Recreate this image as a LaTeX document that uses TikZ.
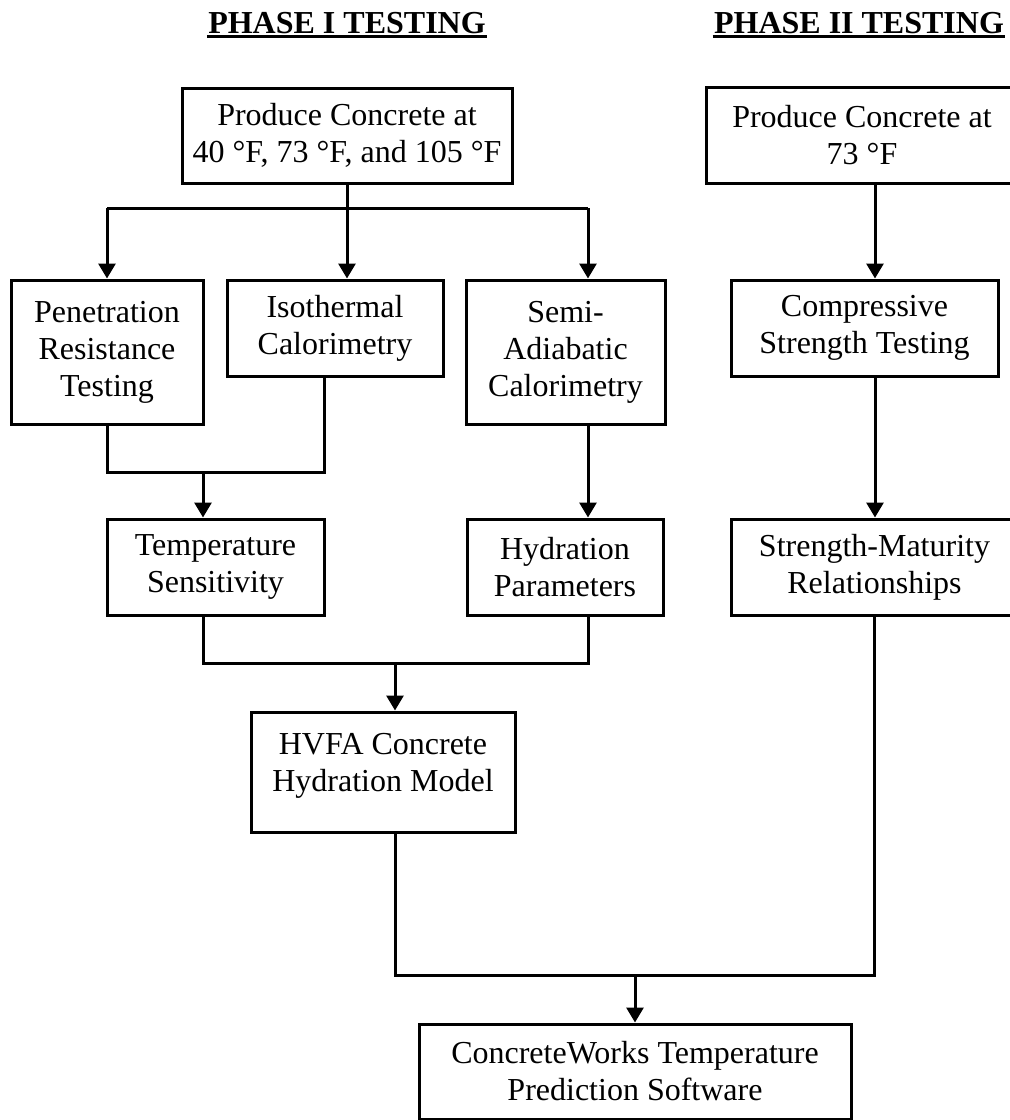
\documentclass[tikz,border=0pt]{standalone}
\usepackage{fontspec}
\setmainfont{Liberation Serif}
\usetikzlibrary{arrows.meta}
\tikzset{
  box/.style={draw, line width=1.5pt, align=center, inner sep=0pt,
    font=\fontsize{16pt}{18.5pt}\selectfont},
  head/.style={inner sep=0pt, font=\fontsize{16pt}{18.5pt}\selectfont\bfseries},
  arr/.style={-{Triangle[width=8.5pt,length=7.5pt]}},
}
\begin{document}
\begin{tikzpicture}[x=0.5pt, y=-0.5pt, line width=1.5pt]
  \useasboundingbox (0,0) rectangle (1010,1120);
  \clip (0,0) rectangle (1010,1120);
  \node[head, anchor=base] (ph1) at (347,33) {PHASE I TESTING};
  \node[head, anchor=base] (ph2) at (859,33) {PHASE II TESTING};
  \draw ([yshift=-1.75pt]ph1.base west) -- ([yshift=-1.75pt]ph1.base east);
  \draw ([yshift=-1.75pt]ph2.base west) -- ([yshift=-1.75pt]ph2.base east);
  \node[box, minimum width=165pt, minimum height=47.5pt] (prod1) at (347,135.5)
    {Produce Concrete at\\40 °F, 73 °F, and 105 °F};
  \node[box, minimum width=156pt, minimum height=48pt] (prod2) at (862,135)
    {Produce Concrete at\\73 °F};
  \node[box, minimum width=96pt, minimum height=72pt] (pen) at (107,352)
    {Penetration\\Resistance\\Testing};
  \node[box, minimum width=108pt, minimum height=48pt] (iso) at (335,328)
    {Isothermal\\Calorimetry};
  \node[box, minimum width=99.5pt, minimum height=72pt] (semi) at (565.5,352)
    {Semi-\\Adiabatic\\Calorimetry};
  \node[box, minimum width=133.5pt, minimum height=48pt] (comp) at (864.5,328)
    {Compressive\\Strength Testing};
  \node[box, minimum width=108.5pt, minimum height=48pt] (temp) at (215.5,567)
    {Temperature\\Sensitivity};
  \node[box, minimum width=98pt, minimum height=48pt] (hydr) at (565,567)
    {Hydration\\Parameters};
  \node[box, minimum width=143.5pt, minimum height=48pt] (sm) at (874.5,567)
    {Strength-Maturity\\Relationships};
  \node[box, minimum width=132pt, minimum height=60pt] (hvfa) at (383,772)
    {HVFA Concrete\\Hydration Model\\[-8.5pt]\mbox{}};
  \node[box, minimum width=216pt, minimum height=47.5pt] (cw) at (635,1071.5)
    {ConcreteWorks Temperature\\Prediction Software};
  \coordinate (splitL) at (107,208);
  \coordinate (splitR) at (588,208);
  \coordinate (m1) at (203,472);
  \coordinate (m2) at (395,663);
  \coordinate (m3) at (635,975);
  \coordinate (p2) at (875,0);
  \begin{scope}
    \draw (prod1.south) -- (prod1.south |- splitL);
    \draw (splitL) -- (splitR);
    \draw[arr] (splitL) -- (pen.north);
    \draw[arr] (prod1.south |- splitL) -- (prod1.south |- iso.north);
    \draw[arr] (splitR) -- (splitR |- semi.north);
    \draw (pen.south) |- (m1) -| ([xshift=-5.5pt]iso.south);
    \draw[arr] (m1) -- (m1 |- temp.north);
    \draw[arr] (splitR |- semi.south) -- (splitR |- hydr.north);
    \draw (m1 |- temp.south) |- (m2) -| (splitR |- hydr.south);
    \draw[arr] (m2) -- (m2 |- hvfa.north);
    \draw (m2 |- hvfa.south) |- (m3) -| (sm.south);
    \draw[arr] (m3) -- (cw.north);
    \draw[arr] (p2 |- prod2.south) -- (p2 |- comp.north);
    \draw[arr] (p2 |- comp.south) -- (p2 |- sm.north);
  \end{scope}
\end{tikzpicture}
\end{document}
